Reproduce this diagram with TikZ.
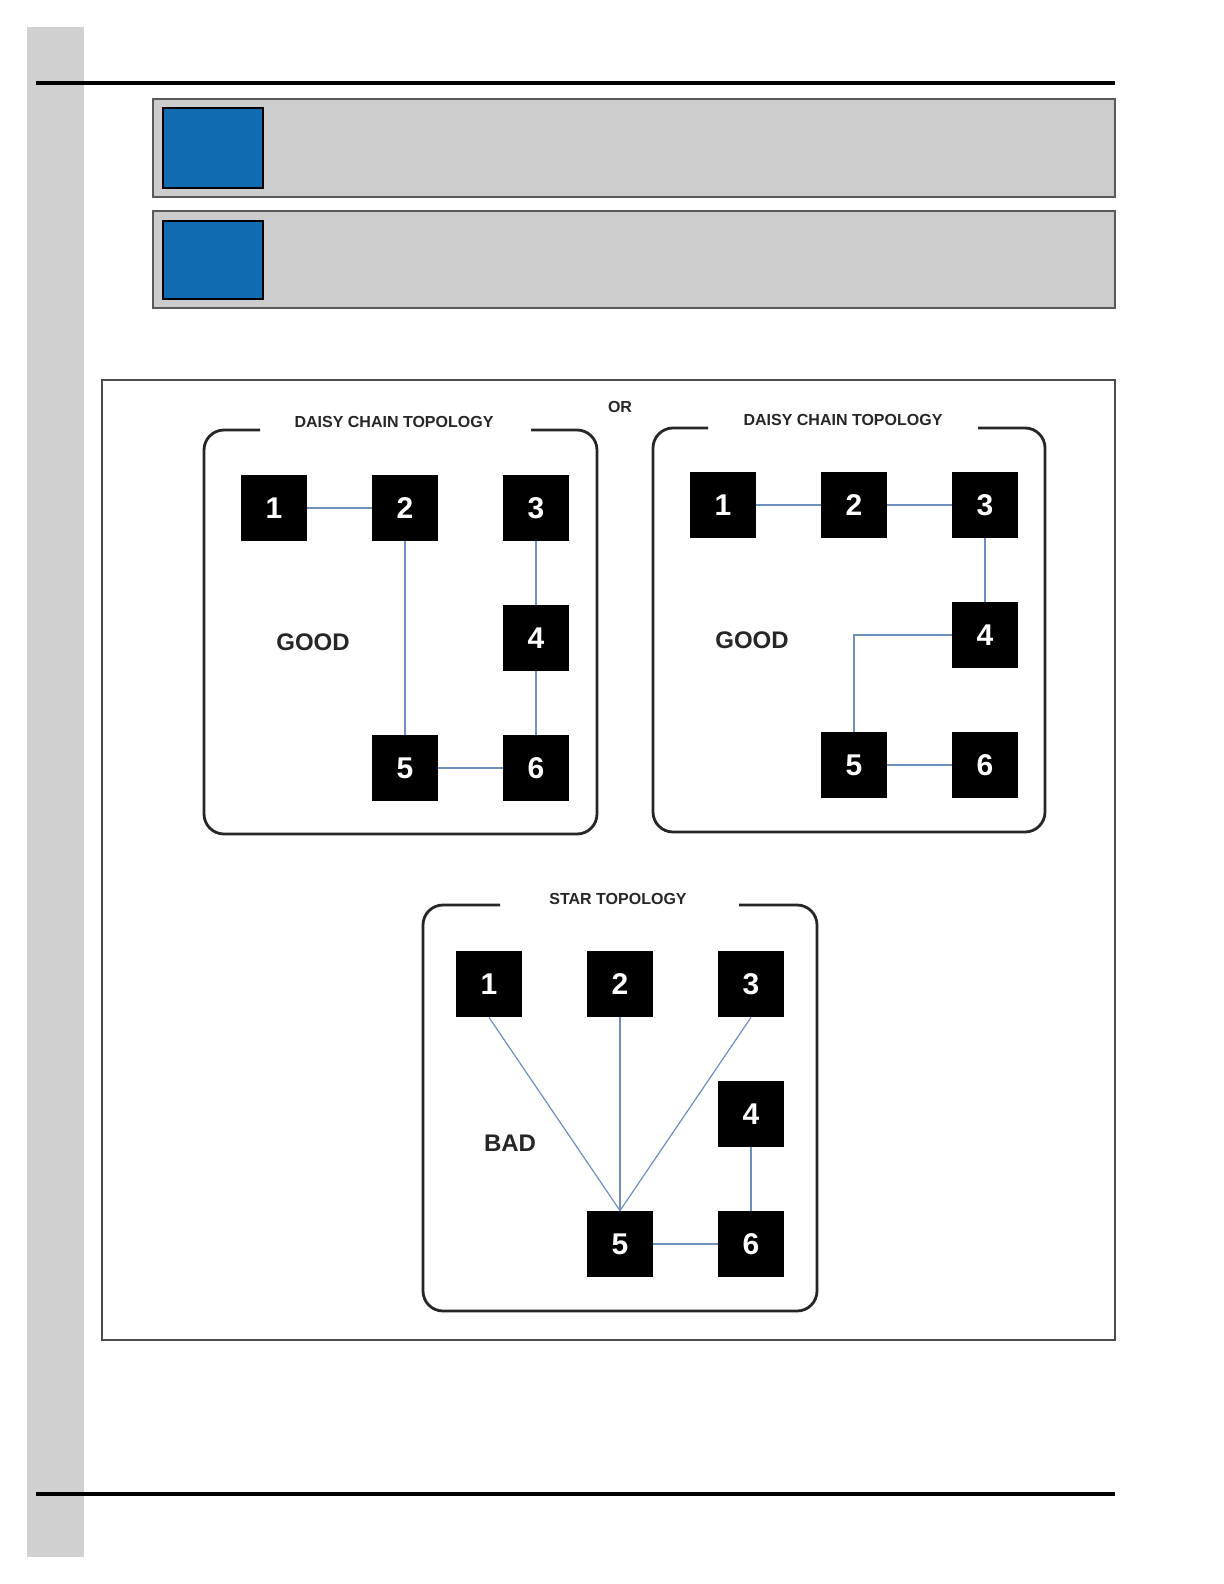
\documentclass[tikz,border=0pt]{standalone}
\usepackage{fontspec}
\setmainfont{Liberation Sans}
\usetikzlibrary{positioning}
\definecolor{barGray}{RGB}{208,208,208}
\definecolor{noteGray}{RGB}{204,204,204}
\definecolor{noteBlue}{RGB}{17,107,176}
\definecolor{wireBlue}{RGB}{112,142,190}

\begin{document}
\begin{tikzpicture}[
    x=0.5pt, y=-0.5pt,
    on grid,
    node distance=65pt and 65.5pt,
    unit/.style={rectangle, fill=black, text=white, minimum size=33pt, inner sep=0pt, font=\fontsize{15}{15}\selectfont\bfseries},
    wire/.style={draw=wireBlue, line width=0.6pt},
    frame/.style={draw=black!85, line width=1.4pt, rounded corners=10pt},
    ttl/.style={font=\fontsize{8}{8}\selectfont\bfseries, text=black!85},
    verdict/.style={font=\fontsize{12}{12}\selectfont\bfseries, text=black!85},
    note/.style={draw=black!65, line width=0.6pt, fill=noteGray},
    tag/.style={draw=black, line width=1.3pt, fill=noteBlue}
]
    \useasboundingbox (0,0) rectangle (1224,1584);
    \fill[white] (0,0) rectangle (1224,1584);

    % page furniture
    \fill[barGray] (27,27) rectangle (84,1557);
    \draw[line width=1.8pt] (36,83) -- (1115,83);
    \draw[line width=1.8pt] (36,1494) -- (1115,1494);
    \draw[note] (153,99) rectangle (1115,197);
    \draw[tag] (163,108) rectangle (263,188);
    \draw[note] (153,211) rectangle (1115,308);
    \draw[tag] (163,221) rectangle (263,299);
    \draw[draw=black!70, line width=0.6pt] (102,380) rectangle (1115,1340);

    % left daisy chain
    \draw[frame] (260,430) -- (204,430) -- (204,834) -- (597,834) -- (597,430) -- (531,430);
    \node[ttl] (ltitle) at (394,422) {DAISY CHAIN TOPOLOGY};
    \node[verdict] (lgood) at (313,642) {GOOD};
    \node[unit] (a1) at (274,508) {1};
    \node[unit, right=of a1] (a2) {2};
    \node[unit, right=of a2] (a3) {3};
    \node[unit, below=of a3] (a4) {4};
    \node[unit, below=of a4] (a6) {6};
    \node[unit, left=of a6] (a5) {5};
    \draw[wire] (a1) -- (a2);
    \draw[wire] (a2) -- (a5);
    \draw[wire] (a3) -- (a4);
    \draw[wire] (a4) -- (a6);
    \draw[wire] (a5) -- (a6);

    \node[ttl] (or) at (620,407) {OR};

    % right daisy chain
    \draw[frame] (708,428) -- (653,428) -- (653,832) -- (1045,832) -- (1045,428) -- (978,428);
    \node[ttl] (rtitle) at (843,420) {DAISY CHAIN TOPOLOGY};
    \node[verdict] (rgood) at (752,640) {GOOD};
    \node[unit] (b1) at (723,505) {1};
    \node[unit, right=of b1] (b2) {2};
    \node[unit, right=of b2] (b3) {3};
    \node[unit, below=of b3] (b4) {4};
    \node[unit, below=of b4] (b6) {6};
    \node[unit, left=of b6] (b5) {5};
    \draw[wire] (b1) -- (b2);
    \draw[wire] (b2) -- (b3);
    \draw[wire] (b3) -- (b4);
    \draw[wire] (b4.west) -| (b5.north);
    \draw[wire] (b5) -- (b6);

    % star
    \draw[frame] (500,905) -- (423,905) -- (423,1311) -- (817,1311) -- (817,905) -- (739,905);
    \node[ttl] (stitle) at (618,899) {STAR TOPOLOGY};
    \node[verdict] (sbad) at (510,1143) {BAD};
    \node[unit] (c1) at (489,984) {1};
    \node[unit, right=of c1] (c2) {2};
    \node[unit, right=of c2] (c3) {3};
    \node[unit, below=of c3] (c4) {4};
    \node[unit, below=of c4] (c6) {6};
    \node[unit, left=of c6] (c5) {5};
    \draw[wire] (c1.south) -- (c5.north);
    \draw[wire] (c2.south) -- (c5.north);
    \draw[wire] (c3.south) -- (c5.north);
    \draw[wire] (c4) -- (c6);
    \draw[wire] (c5) -- (c6);
\end{tikzpicture}
\end{document}
